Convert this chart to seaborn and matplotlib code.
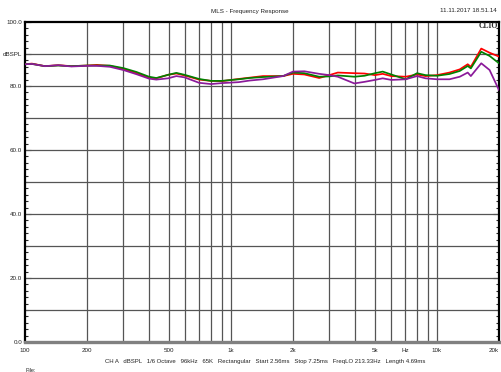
import matplotlib
matplotlib.use("Agg")
import matplotlib.pyplot as plt
import numpy as np
import pandas as pd
import seaborn as sns

# Frequency points (Hz) and measured SPL (dB) for the three traces
freq = [100, 108, 125, 145, 168, 200, 223, 258, 300, 347, 400, 434, 495, 543,
        595, 700, 800, 900, 1090, 1230, 1430, 1790, 2000, 2270, 2680, 3000,
        3300, 3970, 4450, 5000, 5450, 6000, 7050, 8000, 8800, 10000, 11500,
        12900, 14100, 14600, 16400, 18000, 20000]

red_spl = [86.8, 87.0, 86.2, 86.5, 86.2, 86.4, 86.6, 86.3, 85.3, 84.0, 82.6,
           82.4, 83.5, 83.9, 83.3, 82.0, 81.6, 81.5, 82.2, 82.6, 83.1, 83.1,
           83.8, 83.6, 82.5, 83.4, 84.2, 84.0, 83.9, 83.4, 83.8, 83.1, 82.9,
           83.6, 83.1, 83.4, 84.2, 85.2, 86.8, 86.0, 91.7, 90.4, 89.2]

green_spl = [86.8, 86.9, 86.2, 86.4, 86.2, 86.4, 86.4, 86.4, 85.6, 84.4, 82.9,
             82.5, 83.5, 84.1, 83.5, 82.2, 81.6, 81.6, 82.1, 82.5, 82.8, 83.1,
             84.2, 84.0, 82.9, 83.0, 83.3, 82.9, 83.2, 84.0, 84.5, 83.6, 82.1,
             84.0, 83.4, 83.2, 83.75, 84.7, 86.25, 85.5, 90.7, 89.4, 87.1]

purple_spl = [86.8, 86.9, 86.2, 86.5, 86.1, 86.3, 86.3, 86.0, 85.0, 83.7, 82.3,
              82.0, 82.4, 83.1, 82.7, 81.0, 80.6, 80.9, 81.2, 81.7, 82.1, 83.1,
              84.5, 84.6, 83.8, 83.4, 82.9, 80.8, 81.3, 81.9, 82.4, 81.9, 82.1,
              83.1, 82.4, 82.1, 82.1, 82.9, 84.2, 83.1, 87.1, 85.0, 78.7]

trace_names = ["red", "green", "purple"]
trace_colors = ["#ff0000", "#008000", "#8b1a9a"]

x_ticks = [100, 200, 500, 1000, 2000, 5000, 7000, 10000, 20000]
x_labels = ["100", "200", "500", "1k", "2k", "5k", "Hz", "10k", "20k"]
y_ticks = [0, 20, 40, 60, 80, 90, 100]
y_labels = ["0.0", "20.0", "40.0", "60.0", "80.0", "dBSPL", "100.0"]

df = pd.concat([
    pd.DataFrame({"freq": freq, "spl": vals, "trace": name})
    for name, vals in zip(trace_names, [red_spl, green_spl, purple_spl])
])

sns.set_style("white")
plt.rcParams["font.family"] = ["Liberation Sans", "DejaVu Sans"]

fig = plt.figure(figsize=(5.01, 3.72), dpi=100)
ax = fig.add_axes([25 / 501, 1 - 342 / 372, 474 / 501, 320 / 372])

ax.set_xscale("log")
ax.set_xlim(100, 20000)
ax.set_ylim(0, 100)

# grid: vertical lines at 2..9 of each decade, horizontal every 10 dB
vgrid = list(range(200, 1000, 100)) + list(range(1000, 10000, 1000)) + [10000]
for f in vgrid:
    ax.axvline(f, color="#555555", lw=0.9, zorder=1)
for db in range(10, 100, 10):
    ax.axhline(db, color="#555555", lw=0.9, zorder=1)

sns.lineplot(data=df, x="freq", y="spl", hue="trace", hue_order=trace_names,
             palette=trace_colors, lw=1.25, legend=False, ax=ax, zorder=3,
             sort=False)

ax.set_xlabel("")
ax.set_ylabel("")
ax.set_xticks(x_ticks)
ax.set_xticklabels(x_labels)
ax.xaxis.set_minor_locator(matplotlib.ticker.NullLocator())
ax.get_xticklabels()[-1].set_horizontalalignment("right")
ax.set_yticks(y_ticks)
ax.set_yticklabels(y_labels)
ax.set_yticks(np.arange(0, 101, 2), minor=True)
ax.tick_params(axis="x", which="both", length=0, labelsize=4.5, pad=4, colors="#222222")
ax.tick_params(axis="y", which="major", direction="in", length=4, width=0.8,
               labelsize=4.5, pad=2, left=True, right=True, colors="#222222")
ax.tick_params(axis="y", which="minor", direction="in", length=2.5, width=0.8,
               left=True, right=True)

for side in ["left", "top", "right"]:
    ax.spines[side].set_color("black")
    ax.spines[side].set_linewidth(1.6)
ax.spines["bottom"].set_color("#808080")
ax.spines["bottom"].set_linewidth(2.4)

fig.text(250 / 501, 1 - 11 / 372, "MLS - Frequency Response", ha="center",
         va="center", fontsize=4.5, color="#222222")
fig.text(497 / 501, 1 - 11 / 372, "11.11.2017 18.51.14", ha="right",
         va="center", fontsize=4.5, color="#222222")
fig.text(498 / 501, 1 - 26 / 372, "CLIO", ha="right", va="center",
         fontsize=5.5, fontweight="bold", family="Liberation Serif")
fig.text(105 / 501, 1 - 362 / 372,
         "CH A   dBSPL   1/6 Octave   96kHz   65K   Rectangular   Start 2.56ms   "
         "Stop 7.25ms   FreqLO 213.33Hz   Length 4.69ms",
         ha="left", va="center", fontsize=4.3, color="#222222")
fig.text(25 / 501, 1 - 370 / 372, "File:", ha="left", va="center",
         fontsize=4, color="#222222")

fig.savefig("out.png", dpi=100)
